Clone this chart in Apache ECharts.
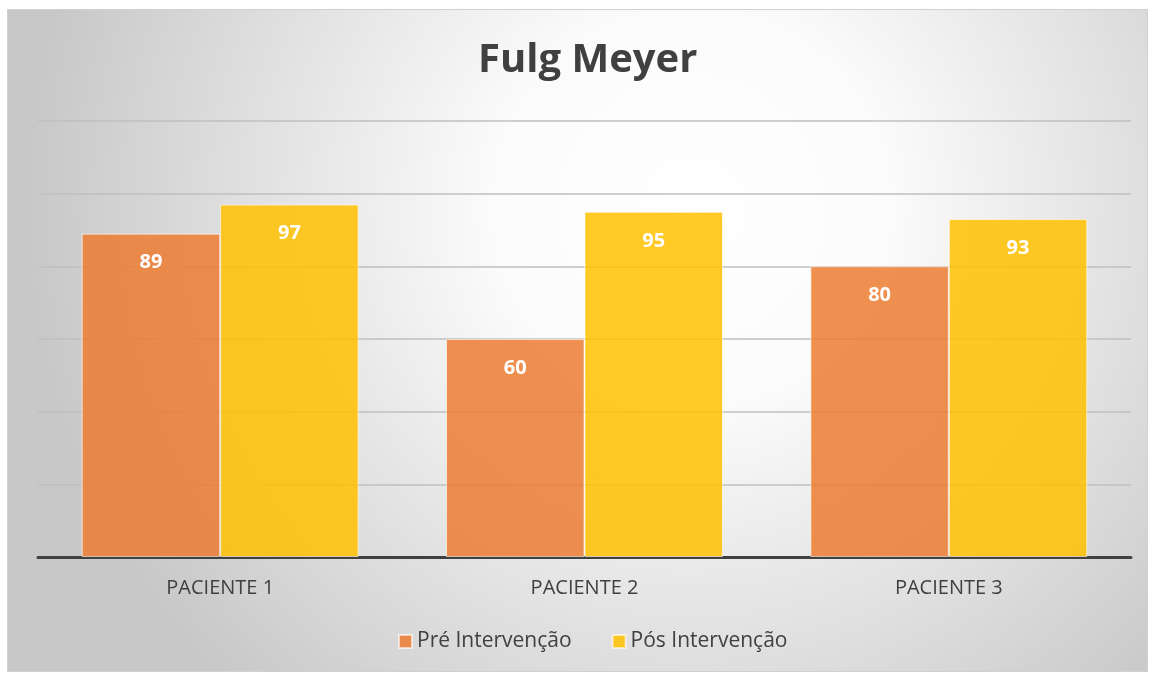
<!DOCTYPE html>
<html>
<head>
<meta charset="utf-8">
<script src="https://cdn.jsdelivr.net/npm/echarts@6/dist/echarts.min.js"></script>
<style>
  html, body { margin: 0; padding: 0; background: #fff; }
  #chart { width: 1155px; height: 676px; }
</style>
</head>
<body>
<div id="chart"></div>
<script>
  // dados
  var categorias = ['PACIENTE 1', 'PACIENTE 2', 'PACIENTE 3'];
  var preIntervencao = [89, 60, 80];
  var posIntervencao = [97, 95, 93];
  var nomesSeries = ['Pré Intervenção', 'Pós Intervenção'];

  var myChart = echarts.init(document.getElementById('chart'));
  var fonte = '"Open Sans", "Noto Sans", sans-serif';

  var rotulo = {
    show: true,
    position: 'insideTop',
    distance: 19,
    color: '#ffffff',
    fontSize: 20,
    fontWeight: 'bold',
    fontFamily: fonte
  };

  myChart.setOption({
    animation: false,
    graphic: [{
      type: 'rect',
      z: -10,
      silent: true,
      shape: { x: 7.5, y: 9.5, width: 1140, height: 662 },
      style: {
        fill: {
          type: 'radial', x: 0.6, y: 0.3, r: 1.0,
          colorStops: [
            { offset: 0, color: '#ffffff' },
            { offset: 0.3, color: '#fbfbfb' },
            { offset: 1, color: '#c8c8c8' }
          ]
        },
        stroke: '#d0d0d0',
        lineWidth: 1
      }
    }],
    title: {
      text: 'Fulg Meyer',
      left: 473,
      top: 36,
      textStyle: { fontSize: 40, fontWeight: 'bold', color: '#404040', fontFamily: fonte }
    },
    legend: {
      data: nomesSeries,
      bottom: 19,
      left: 393,
      itemWidth: 13,
      itemHeight: 13,
      itemGap: 40,
      icon: 'rect',
      textStyle: { fontSize: 21, color: '#404040', fontFamily: fonte }
    },
    grid: { left: 38, right: 24, top: 121, bottom: 119 },
    xAxis: {
      type: 'category',
      data: categorias,
      axisLine: { lineStyle: { color: '#404040', width: 3 } },
      axisTick: { show: false },
      axisLabel: { fontSize: 20, color: '#404040', margin: 21, fontFamily: fonte }
    },
    yAxis: {
      type: 'value',
      min: 0,
      max: 120,
      interval: 20,
      axisLabel: { show: false },
      axisLine: { show: false },
      axisTick: { show: false },
      splitLine: { lineStyle: { color: '#bfbfbf', width: 1.5 } }
    },
    series: [{
      name: nomesSeries[0],
      type: 'bar',
      data: preIntervencao,
      barGap: '0%',
      barCategoryGap: '24%',
      itemStyle: { color: 'rgba(237,125,49,0.85)', borderColor: 'rgba(255,255,255,0.6)', borderWidth: 1 },
      label: rotulo
    }, {
      name: nomesSeries[1],
      type: 'bar',
      data: posIntervencao,
      itemStyle: { color: 'rgba(255,192,0,0.85)', borderColor: 'rgba(255,255,255,0.6)', borderWidth: 1 },
      label: rotulo
    }]
  });
</script>
</body>
</html>
